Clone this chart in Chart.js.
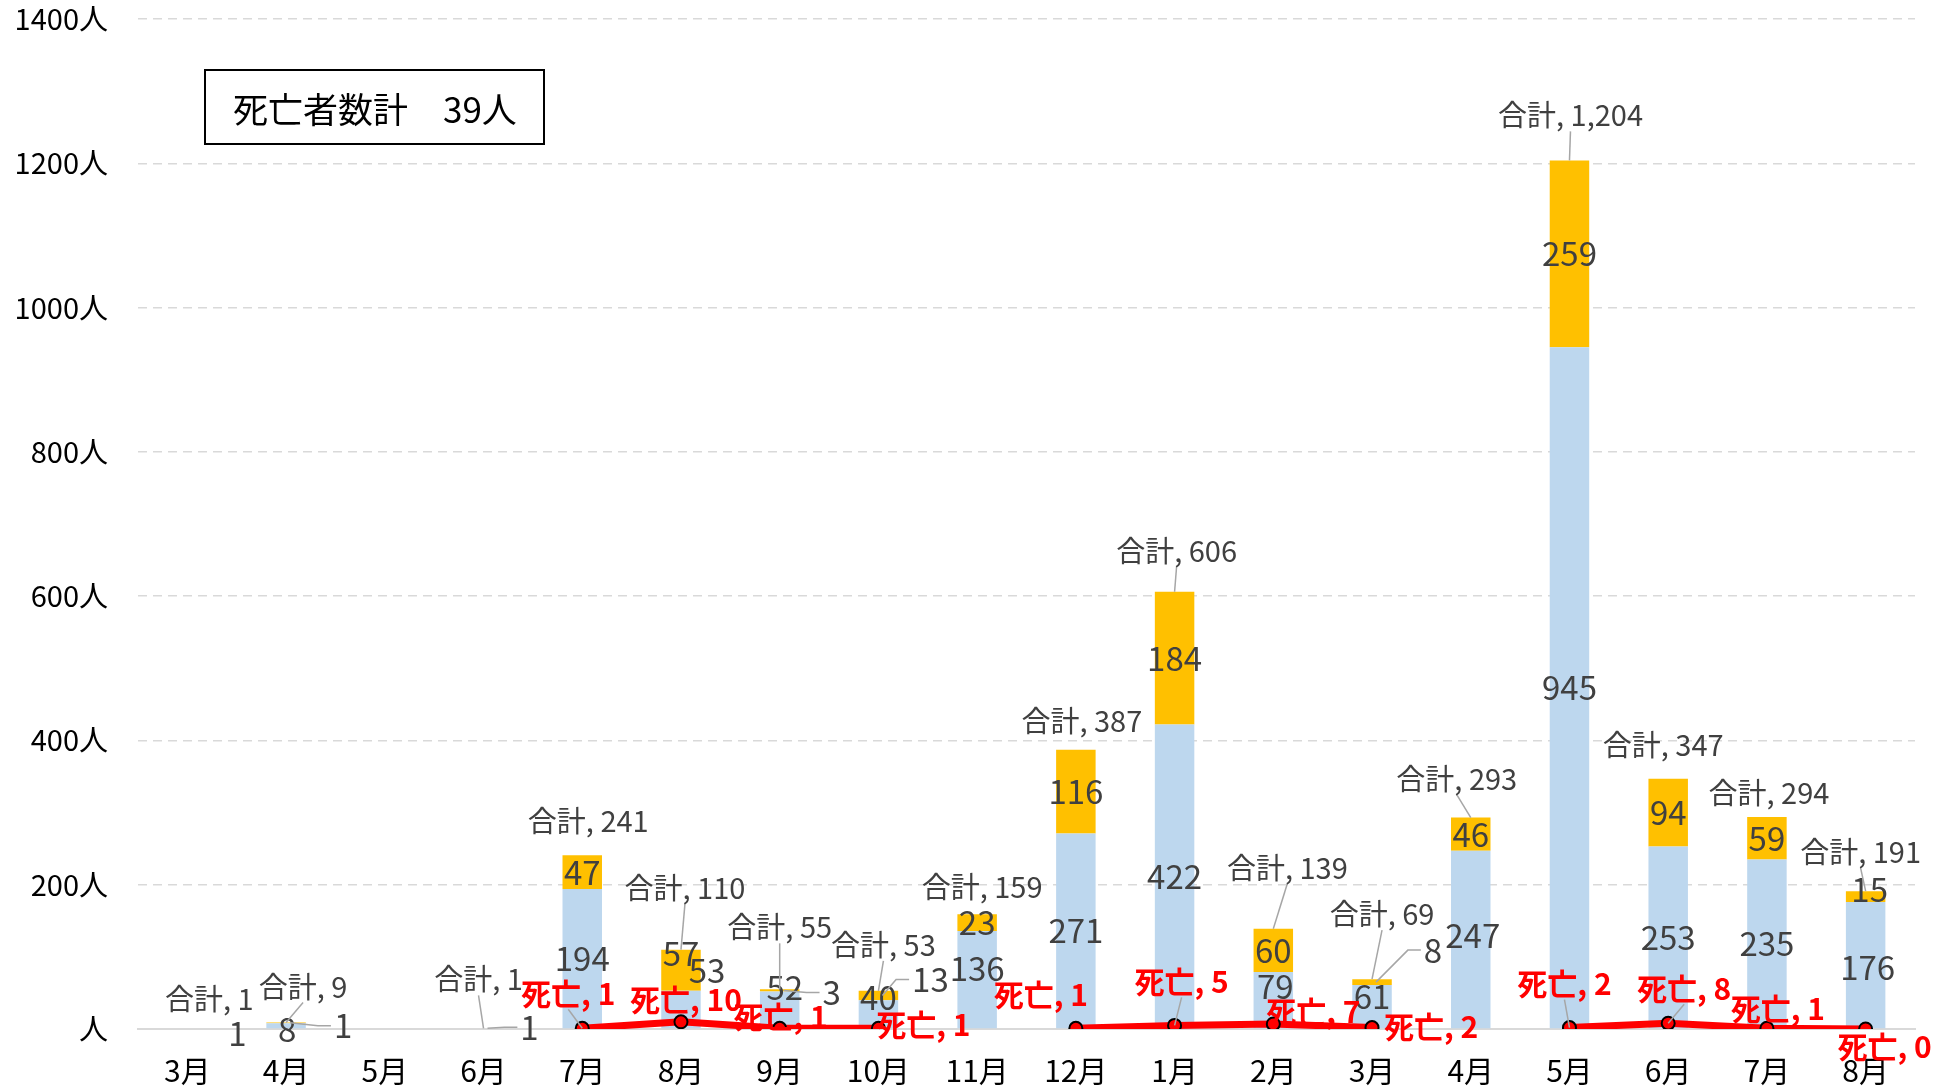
<!DOCTYPE html>
<html lang="ja">
<head>
<meta charset="utf-8">
<title>月別 陽性者数と死亡者数</title>
<script src="https://cdn.jsdelivr.net/npm/chart.js@4.4.1/dist/chart.umd.min.js"></script>
<style>
  html, body { margin: 0; padding: 0; background: #fff; }
  #wrap { position: relative; width: 1954px; height: 1091px; }
  #note {
    position: absolute; left: 204px; top: 69px; width: 341px; height: 76px;
    box-sizing: border-box; border: 2px solid #000; color: #000;
    display: flex; align-items: center; padding-left: 27px; white-space: pre;
    font: 35px "Noto Sans CJK JP", sans-serif;
  }
</style>
</head>
<body>
<div id="wrap">
  <canvas id="chart"></canvas>
  <div id="note">死亡者数計　39人</div>
</div>
<script>
// data
const months = ['3月', '4月', '5月', '6月', '7月', '8月', '9月', '10月', '11月', '12月',
                '1月', '2月', '3月', '4月', '5月', '6月', '7月', '8月'];
const lowerCounts = [1, 8, 0, 0, 194, 53, 52, 40, 136, 271, 422, 79, 61, 247, 945, 253, 235, 176];
const upperCounts = [0, 1, 0, 1, 47, 57, 3, 13, 23, 116, 184, 60, 8, 46, 259, 94, 59, 15];
const deaths = [null, null, null, null, 1, 10, 1, 1, null, 1, 5, 7, 2, null, 2, 8, 1, 0];
const yTickStep = 200;
const yMax = 1400;

// label nudges in px (where excel dragged the labels)
const lowerNudge = [[50, 5], [1, 4], null, null, [0, 0], [26, -39], [5, -22], [0, -17], [0, -11], [0, 0],
                    [0, 0], [2, -14], [0, -10], [2, -4], [0, 0], [0, 0], [0, 0], [2, 2]];
const upperNudge = [null, [57, 3], null, [46, -1], [0, 0], [0, -17], [52, 2], [52, -16], [0, 0], [0, 0],
                    [0, 0], [0, 0], [61, -32], [0, 0], [0, 0], [0, 0], [0, 0], [4, -7]];
const totalNudge = [[22, -29], [17, -36], null, [-5, -49], [6, -34], [4, -62], [0, -62], [5, -46], [5, -27], [6, -29],
                    [2, -41], [14, -61], [10, -65], [-14, -39], [1, -45], [-5, -34], [2, -24], [-5, -39]];
const deathNudge = [null, null, null, null, [-14, -35], [5, -22], [1, -12], [45, -4], null, [-35, -34],
                    [7, -44], [40, -12], [59, -1], null, [-5, -44], [16, -35], [11, -20], [19, 18]];

const FONT = '"Noto Sans CJK JP", "Noto Sans", sans-serif';
const GREY_TEXT = '#404040';
const LEADER = '#A6A6A6';

function leader(ctx, pts) {
  ctx.save();
  ctx.strokeStyle = LEADER;
  ctx.lineWidth = 1.5;
  ctx.beginPath();
  ctx.moveTo(pts[0][0], pts[0][1]);
  for (let k = 1; k < pts.length; k++) ctx.lineTo(pts[k][0], pts[k][1]);
  ctx.stroke();
  ctx.restore();
}

const labelPlugin = {
  id: 'excelLabels',
  afterDatasetsDraw(chart) {
    const ctx = chart.ctx;
    const yScale = chart.scales.y;
    const lowerBars = chart.getDatasetMeta(0).data;
    const upperBars = chart.getDatasetMeta(1).data;
    const points = chart.getDatasetMeta(2).data;
    ctx.save();
    ctx.textAlign = 'center';
    ctx.textBaseline = 'middle';

    // values inside the stacked segments (only the moved top ones get a leader)
    ctx.font = '33px ' + FONT;
    ctx.fillStyle = GREY_TEXT;
    [[lowerBars, lowerCounts, lowerNudge, false], [upperBars, upperCounts, upperNudge, true]].forEach(([bars, vals, nudge, lead]) => {
      bars.forEach((el, i) => {
        const v = vals[i];
        if (!v || !nudge[i]) return;
        const cy = (el.y + el.base) / 2;
        const tx = el.x + nudge[i][0];
        const ty = cy + nudge[i][1];
        if (lead && nudge[i][0] > 30) {
          const w = ctx.measureText(String(v)).width;
          leader(ctx, [[tx - w / 2 - 3, ty], [tx - w / 2 - 16, ty], [el.x + 4, cy]]);
        }
        ctx.fillText(String(v), tx, ty);
      });
    });

    // 合計 labels above the stacks
    ctx.font = '29px ' + FONT;
    lowerBars.forEach((el, i) => {
      const total = lowerCounts[i] + upperCounts[i];
      if (!total || !totalNudge[i]) return;
      const top = yScale.getPixelForValue(total);
      const tx = el.x + totalNudge[i][0];
      const ty = top + totalNudge[i][1];
      if (totalNudge[i][1] <= -35) leader(ctx, [[tx, ty + 16], [el.x, top]]);
      ctx.fillText('合計, ' + total.toLocaleString('en-US'), tx, ty);
    });

    // 死亡 labels on the line
    ctx.font = 'bold 30px ' + FONT;
    ctx.fillStyle = '#FF0000';
    points.forEach((pt, i) => {
      if (deaths[i] === null || !deathNudge[i]) return;
      const tx = pt.x + deathNudge[i][0];
      const ty = pt.y + deathNudge[i][1];
      if (deathNudge[i][1] <= -35) leader(ctx, [[tx, ty + 16], [pt.x, pt.y]]);
      ctx.fillText('死亡, ' + deaths[i], tx, ty);
    });
    ctx.restore();
  }
};

new Chart(document.getElementById('chart'), {
  data: {
    labels: months,
    datasets: [
      {
        type: 'bar', label: '下段', data: lowerCounts, order: 1,
        backgroundColor: '#BDD7EE', borderWidth: 0,
        barPercentage: 1, categoryPercentage: 0.4
      },
      {
        type: 'bar', label: '上段', data: upperCounts, order: 1,
        backgroundColor: '#FFC000', borderWidth: 0,
        barPercentage: 1, categoryPercentage: 0.4
      },
      {
        type: 'line', label: '死亡', data: deaths, order: 0, stack: 'deaths',
        borderColor: '#FF0000', borderWidth: 7, spanGaps: false, tension: 0,
        pointRadius: 6.5, pointBackgroundColor: '#FF0000',
        pointBorderColor: '#000', pointBorderWidth: 2
      }
    ]
  },
  options: {
    responsive: true,
    maintainAspectRatio: false,
    animation: false,
    layout: { padding: { top: 19, right: 39, left: 0, bottom: 0 } },
    plugins: { legend: { display: false }, tooltip: { enabled: false } },
    scales: {
      x: {
        stacked: true,
        grid: { display: false, drawTicks: false },
        border: { display: true, color: '#D9D9D9', width: 2 },
        ticks: { color: '#000', font: { family: FONT, size: 30 }, padding: 24, maxRotation: 0 },
        afterFit: s => { s.height = 62; s.paddingLeft = 0; s.paddingRight = 0; }
      },
      y: {
        stacked: true,
        min: 0,
        max: yMax,
        grid: {
          drawTicks: false,
          lineWidth: 1.5,
          color: c => (c.tick && c.tick.value === 0) ? 'rgba(0,0,0,0)' : '#D9D9D9'
        },
        border: { display: false, dash: [9, 6] },
        ticks: {
          stepSize: yTickStep,
          color: '#000',
          padding: 30,
          font: { family: FONT, size: 29 },
          callback: v => v === 0 ? '人' : v + '人'
        },
        afterFit: s => { s.width = 138; s.paddingTop = 0; s.paddingBottom = 0; }
      }
    }
  },
  plugins: [labelPlugin]
});
</script>
</body>
</html>
